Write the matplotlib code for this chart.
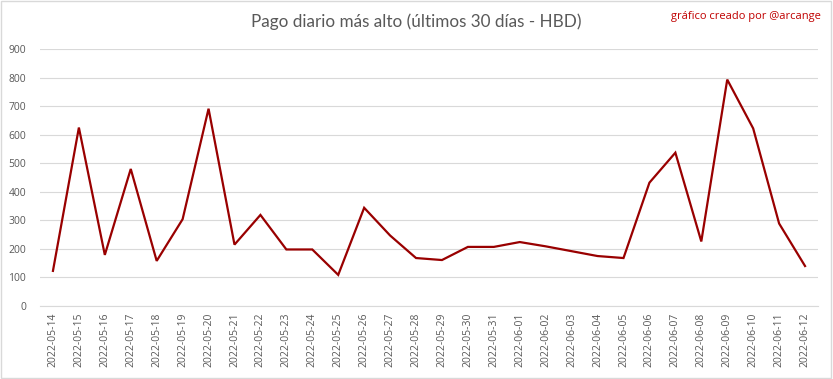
import matplotlib
matplotlib.use("Agg")
import matplotlib.pyplot as plt
from matplotlib.patches import Rectangle

# data
dates = ["2022-05-14", "2022-05-15", "2022-05-16", "2022-05-17", "2022-05-18",
         "2022-05-19", "2022-05-20", "2022-05-21", "2022-05-22", "2022-05-23",
         "2022-05-24", "2022-05-25", "2022-05-26", "2022-05-27", "2022-05-28",
         "2022-05-29", "2022-05-30", "2022-05-31", "2022-06-01", "2022-06-02",
         "2022-06-03", "2022-06-04", "2022-06-05", "2022-06-06", "2022-06-07",
         "2022-06-08", "2022-06-09", "2022-06-10", "2022-06-11", "2022-06-12"]
payout = [123, 625, 179, 480, 158, 304, 691, 215, 319, 198,
          198, 109, 344, 247, 168, 161, 207, 207, 224, 209,
          192, 175, 168, 432, 537, 226, 793, 622, 289, 140]
yticks = list(range(0, 1000, 100))

fig = plt.figure(figsize=(8.33, 3.79), dpi=100)
ax = fig.add_axes([0.048, 0.1926, 0.934, 0.678])

x = list(range(len(dates)))
ax.plot(x, payout, color="#990000", linewidth=1.6, solid_joinstyle="miter")

ax.set_xlim(-0.5, len(dates) - 0.5)
ax.set_ylim(0, 900)
ax.set_yticks(yticks)
ax.set_xticks(x)
ax.set_xticklabels(dates, rotation=90)
ax.tick_params(axis="both", length=0, labelsize=7.5, labelcolor="#595959",
               labelfontfamily="Open Sans")
ax.tick_params(axis="y", pad=10)
ax.tick_params(axis="x", pad=5)
ax.grid(axis="y", color="#d9d9d9", linewidth=0.8)
ax.set_axisbelow(True)
for side in ["top", "right", "left"]:
    ax.spines[side].set_visible(False)
ax.spines["bottom"].set_color("#d9d9d9")
ax.spines["bottom"].set_linewidth(0.8)

fig.text(0.5, 0.942, "Pago diario más alto (últimos 30 días - HBD)",
         ha="center", va="center", fontsize=12.3, color="#595959",
         family="Lato")
fig.text(0.986, 0.957, "gráfico creado por @arcange", ha="right", va="center",
         fontsize=8, color="#c00000", family="Open Sans")

# outer border
fig.patches.append(Rectangle((0.001, 0.002), 0.997, 0.996, transform=fig.transFigure,
                             fill=False, edgecolor="#d9d9d9", linewidth=1))

fig.savefig("out.png", dpi=100)
